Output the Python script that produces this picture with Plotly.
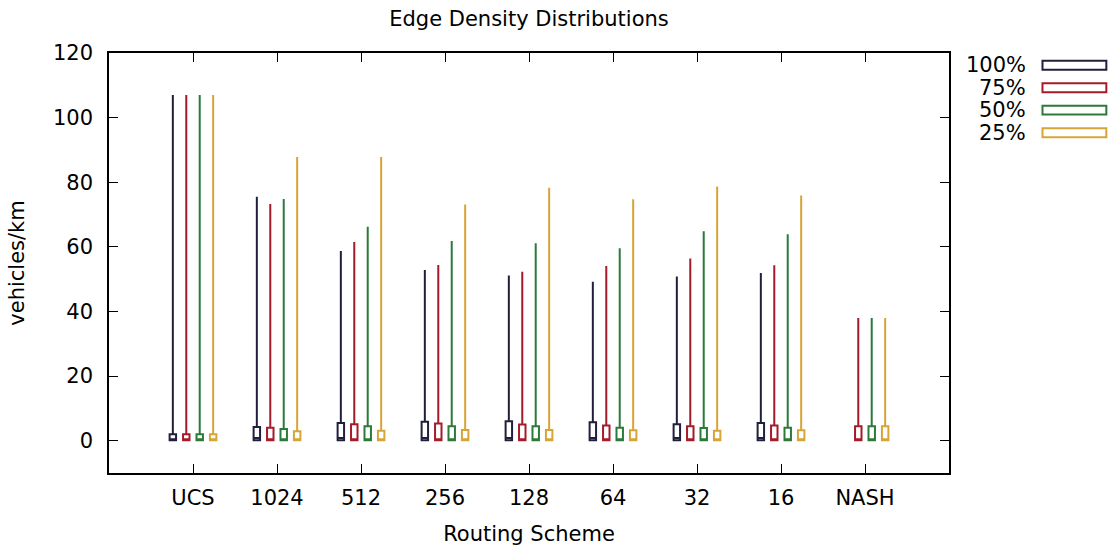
import plotly.graph_objects as go

categories = ["UCS", "1024", "512", "256", "128", "64", "32", "16", "NASH"]
series_names = ["100%", "75%", "50%", "25%"]
series_colors = ["#20203c", "#a51b2a", "#2c7a39", "#d6a537"]

# 100% has no NASH value
p100_max = [107, 75.5, 58.7, 52.8, 51.1, 49.2, 50.8, 51.9]
p75_max = [107, 73.3, 61.5, 54.4, 52.3, 54.1, 56.4, 54.3, 38.0]
p50_max = [107, 74.8, 66.2, 61.8, 61.1, 59.6, 64.8, 63.9, 38.0]
p25_max = [107, 87.8, 87.8, 73.1, 78.3, 74.7, 78.7, 75.9, 38.0]

p100_q3 = [2.0, 4.2, 5.5, 5.9, 6.0, 5.7, 5.1, 5.5]
p75_q3 = [2.0, 4.0, 5.1, 5.3, 5.0, 4.7, 4.5, 4.7, 4.5]
p50_q3 = [2.0, 3.6, 4.5, 4.5, 4.5, 4.0, 3.9, 4.0, 4.5]
p25_q3 = [2.0, 2.9, 3.1, 3.3, 3.3, 3.2, 3.1, 3.2, 4.5]

p100_med = [0.4, 0.8, 0.8, 0.8, 0.8, 0.8, 0.8, 0.8]
p75_med = [0.4, 0.4, 0.4, 0.4, 0.4, 0.4, 0.4, 0.4, 0.4]
p50_med = [0.4, 0.4, 0.4, 0.4, 0.4, 0.4, 0.4, 0.4, 0.4]
p25_med = [0.4, 0.4, 0.4, 0.4, 0.4, 0.4, 0.4, 0.4, 0.4]

q1_value = 0.15
min_value = 0.0

y_ticks = [0, 20, 40, 60, 80, 100, 120]

series_max = [p100_max, p75_max, p50_max, p25_max]
series_q3 = [p100_q3, p75_q3, p50_q3, p25_q3]
series_med = [p100_med, p75_med, p50_med, p25_med]

FONT = "DejaVu Sans"
FS = 21
fig = go.Figure()

for name, color, mx, q3, med in zip(series_names, series_colors, series_max, series_q3, series_med):
    n = len(mx)
    fig.add_trace(go.Box(
        name=name,
        x=categories[:n],
        q1=[q1_value] * n,
        median=med,
        q3=q3,
        lowerfence=[min_value] * n,
        upperfence=mx,
        line=dict(color=color, width=2),
        fillcolor="white",
        whiskerwidth=0,
        boxpoints=False,
        showlegend=False,
        hoverinfo="skip",
    ))

# custom legend: text on left, box sample on right (gnuplot style)
legend_y = [0.971, 0.917, 0.864, 0.810]
for name, color, ly in zip(series_names, series_colors, legend_y):
    fig.add_annotation(
        x=1.094, y=ly, xref="paper", yref="paper",
        text=name, showarrow=False, xanchor="right", yanchor="middle",
        font=dict(family=FONT, size=FS, color="black"),
    )
    fig.add_shape(
        type="rect", xref="paper", yref="paper",
        x0=1.1113, x1=1.1873, y0=ly - 0.0107, y1=ly + 0.0107,
        line=dict(color=color, width=2), fillcolor="white",
    )

fig.update_layout(
    width=1112, height=551,
    margin=dict(l=109, r=163, t=53, b=78),
    paper_bgcolor="white", plot_bgcolor="white",
    boxmode="group", boxgap=0.36, boxgroupgap=0.52,
    title=dict(text="Edge Density Distributions", xref="paper", x=0.5, xanchor="center",
               y=0.967, yanchor="middle",
               font=dict(family=FONT, size=FS, color="black")),
    font=dict(family=FONT, size=FS, color="black"),
)

fig.update_xaxes(
    type="category", categoryorder="array", categoryarray=categories,
    range=[-1, len(categories)], automargin=False,
    showline=True, linecolor="black", linewidth=1.5, mirror="ticks",
    ticks="inside", ticklen=9, tickcolor="black", tickwidth=1.2,
    showgrid=False, zeroline=False,
    title=dict(text="Routing Scheme", font=dict(family=FONT, size=FS), standoff=17),
    tickfont=dict(family=FONT, size=FS),
    ticklabelstandoff=5,
)
fig.update_yaxes(
    range=[-10, 120], tickvals=y_ticks, automargin=False,
    showline=True, linecolor="black", linewidth=1.5, mirror="ticks",
    ticks="inside", ticklen=9, tickcolor="black", tickwidth=1.2,
    showgrid=False, zeroline=False,
    title=dict(text="vehicles/km", font=dict(family=FONT, size=FS), standoff=23),
    tickfont=dict(family=FONT, size=FS),
    ticklabelstandoff=10,
)

fig.write_html(
    "out.html",
    config={"displayModeBar": False},
    post_script="document.body.style.margin='0';document.body.style.overflow='hidden';",
)
